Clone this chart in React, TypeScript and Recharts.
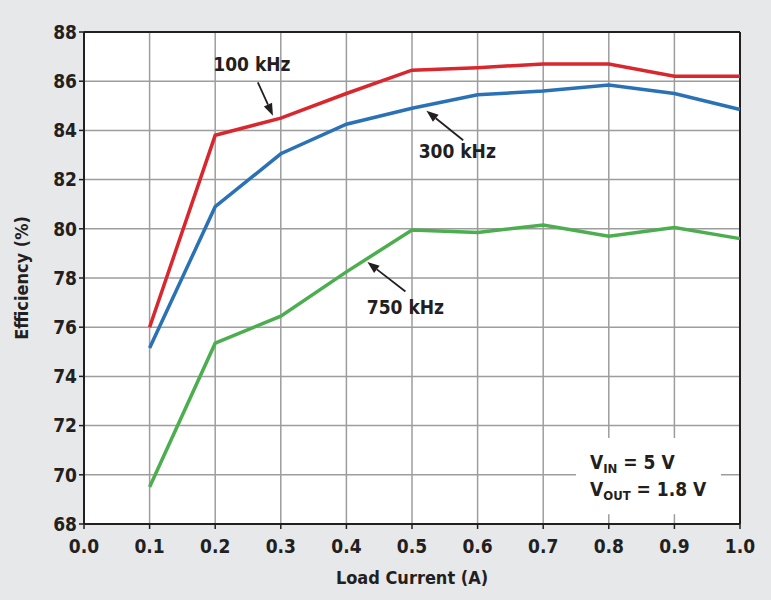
import {
  LineChart, Line, XAxis, YAxis, CartesianGrid, ReferenceLine, ReferenceDot, ReferenceArea, Label,
} from 'recharts';

const loadCurrent = [0.1, 0.2, 0.3, 0.4, 0.5, 0.6, 0.7, 0.8, 0.9, 1.0];
const eff100k = [76.0, 83.8, 84.5, 85.5, 86.45, 86.55, 86.7, 86.7, 86.2, 86.2];
const eff300k = [75.15, 80.9, 83.05, 84.25, 84.9, 85.45, 85.6, 85.85, 85.5, 84.85];
const eff750k = [69.5, 75.35, 76.45, 78.25, 79.95, 79.85, 80.15, 79.7, 80.05, 79.6];

const xTicks = [0, 0.1, 0.2, 0.3, 0.4, 0.5, 0.6, 0.7, 0.8, 0.9, 1.0];
const yTicks = [68, 70, 72, 74, 76, 78, 80, 82, 84, 86, 88];

const data = loadCurrent.map((x, i) => ({
  x,
  f100: eff100k[i],
  f300: eff300k[i],
  f750: eff750k[i],
}));

// callouts: label position, arrow tail and tip (data coordinates)
const callouts = [
  { text: '100 kHz', lx: 0.256, ly: 86.7, from: { x: 0.265, y: 85.95 }, to: { x: 0.288, y: 84.6 } },
  { text: '300 kHz', lx: 0.569, ly: 83.15, from: { x: 0.578, y: 83.6 }, to: { x: 0.522, y: 84.8 } },
  { text: '750 kHz', lx: 0.49, ly: 76.8, from: { x: 0.49, y: 77.45 }, to: { x: 0.432, y: 78.65 } },
];

const FONT = '"Liberation Sans Narrow", "DejaVu Sans Condensed", "Arial Narrow", sans-serif';
const INK = '#231f20';

const Arrow = (props: any) => {
  const { x1, y1, x2, y2 } = props;
  if ([x1, y1, x2, y2].some((v) => v == null || isNaN(v))) return null;
  const a = Math.atan2(y2 - y1, x2 - x1);
  const len = 12;
  const w = 4.5;
  const bx = x2 - len * Math.cos(a);
  const by = y2 - len * Math.sin(a);
  const px = -Math.sin(a) * w;
  const py = Math.cos(a) * w;
  return (
    <g>
      <line x1={x1} y1={y1} x2={bx} y2={by} stroke={INK} strokeWidth={1.8} />
      <polygon points={`${x2},${y2} ${bx + px},${by + py} ${bx - px},${by - py}`} fill={INK} />
    </g>
  );
};

const ConditionsLabel = (props: any) => {
  const { viewBox } = props;
  if (!viewBox) return null;
  const x = viewBox.x + 14;
  const y = viewBox.y;
  return (
    <text x={x} y={y + 31} fontFamily={FONT} fontWeight="bold" fontSize={19} fill={INK}>
      <tspan x={x} y={y + 31}>V</tspan>
      <tspan dy={4} fontSize={13}>IN</tspan>
      <tspan dy={-4}> = 5 V</tspan>
      <tspan x={x} y={y + 58}>V</tspan>
      <tspan dy={4} fontSize={13}>OUT</tspan>
      <tspan dy={-4}> = 1.8 V</tspan>
    </text>
  );
};

const YTitle = (props: any) => {
  const { viewBox } = props;
  const cy = viewBox.y + viewBox.height / 2;
  return (
    <text x={0} y={0} transform={`translate(28, ${cy}) rotate(-90)`} textAnchor="middle"
      fontFamily={FONT} fontWeight="bold" fontSize={18} fill={INK}>
      Efficiency (%)
    </text>
  );
};

const XTitle = (props: any) => {
  const { viewBox } = props;
  const cx = viewBox.x + viewBox.width / 2;
  return (
    <text x={cx} y={viewBox.y + 60} textAnchor="middle"
      fontFamily={FONT} fontWeight="bold" fontSize={18} fill={INK}>
      Load Current (A)
    </text>
  );
};

const tickStyle = { fontFamily: FONT, fontWeight: 'bold', fontSize: 19, fill: INK };

export default function App() {
  return (
    <div style={{ position: 'absolute', left: 0, top: 0, width: 771, height: 600, background: '#e7e8e9' }}>
      <LineChart width={771} height={600} data={data} margin={{ top: 32, right: 31, bottom: 36, left: 0 }}>
        <CartesianGrid stroke="#9d9d9d" strokeWidth={1.5} fill="#ffffff" fillOpacity={1} />
        <XAxis
          dataKey="x"
          type="number"
          domain={[0, 1]}
          ticks={xTicks}
          tickFormatter={(v: number) => v.toFixed(1)}
          tick={tickStyle}
          tickSize={5}
          tickMargin={11}
          tickLine={{ stroke: INK, strokeWidth: 1.5 }}
          axisLine={{ stroke: INK, strokeWidth: 2 }}
          height={40}
          interval={0}
        >
          <Label content={<XTitle />} />
        </XAxis>
        <YAxis
          type="number"
          domain={[68, 88]}
          ticks={yTicks}
          tick={tickStyle}
          tickSize={5}
          tickLine={{ stroke: INK, strokeWidth: 1.5 }}
          axisLine={{ stroke: INK, strokeWidth: 2 }}
          width={84}
          interval={0}
        >
          <Label content={<YTitle />} />
        </YAxis>
        <ReferenceLine y={88} stroke={INK} strokeWidth={2} />
        <ReferenceLine x={1} stroke={INK} strokeWidth={2} />
        <ReferenceArea x1={0.75} x2={0.971} y1={68.4} y2={71.5} fill="#ffffff" fillOpacity={1} stroke="none"
          label={<ConditionsLabel />} />
        <Line dataKey="f750" stroke="#4cae4f" strokeWidth={3.5} dot={false} isAnimationActive={false} />
        <Line dataKey="f300" stroke="#2a72b5" strokeWidth={3.5} dot={false} isAnimationActive={false} />
        <Line dataKey="f100" stroke="#d9272e" strokeWidth={3.5} dot={false} isAnimationActive={false} />
        {callouts.map((c) => (
          <ReferenceLine key={`a-${c.text}`} segment={[c.from, c.to]} shape={<Arrow />} ifOverflow="visible" />
        ))}
        {callouts.map((c) => (
          <ReferenceDot key={`t-${c.text}`} x={c.lx} y={c.ly} r={0} fill="none" stroke="none"
            label={{ value: c.text, position: 'center', fontFamily: FONT, fontWeight: 'bold', fontSize: 19, fill: INK }} />
        ))}
      </LineChart>
    </div>
  );
}
